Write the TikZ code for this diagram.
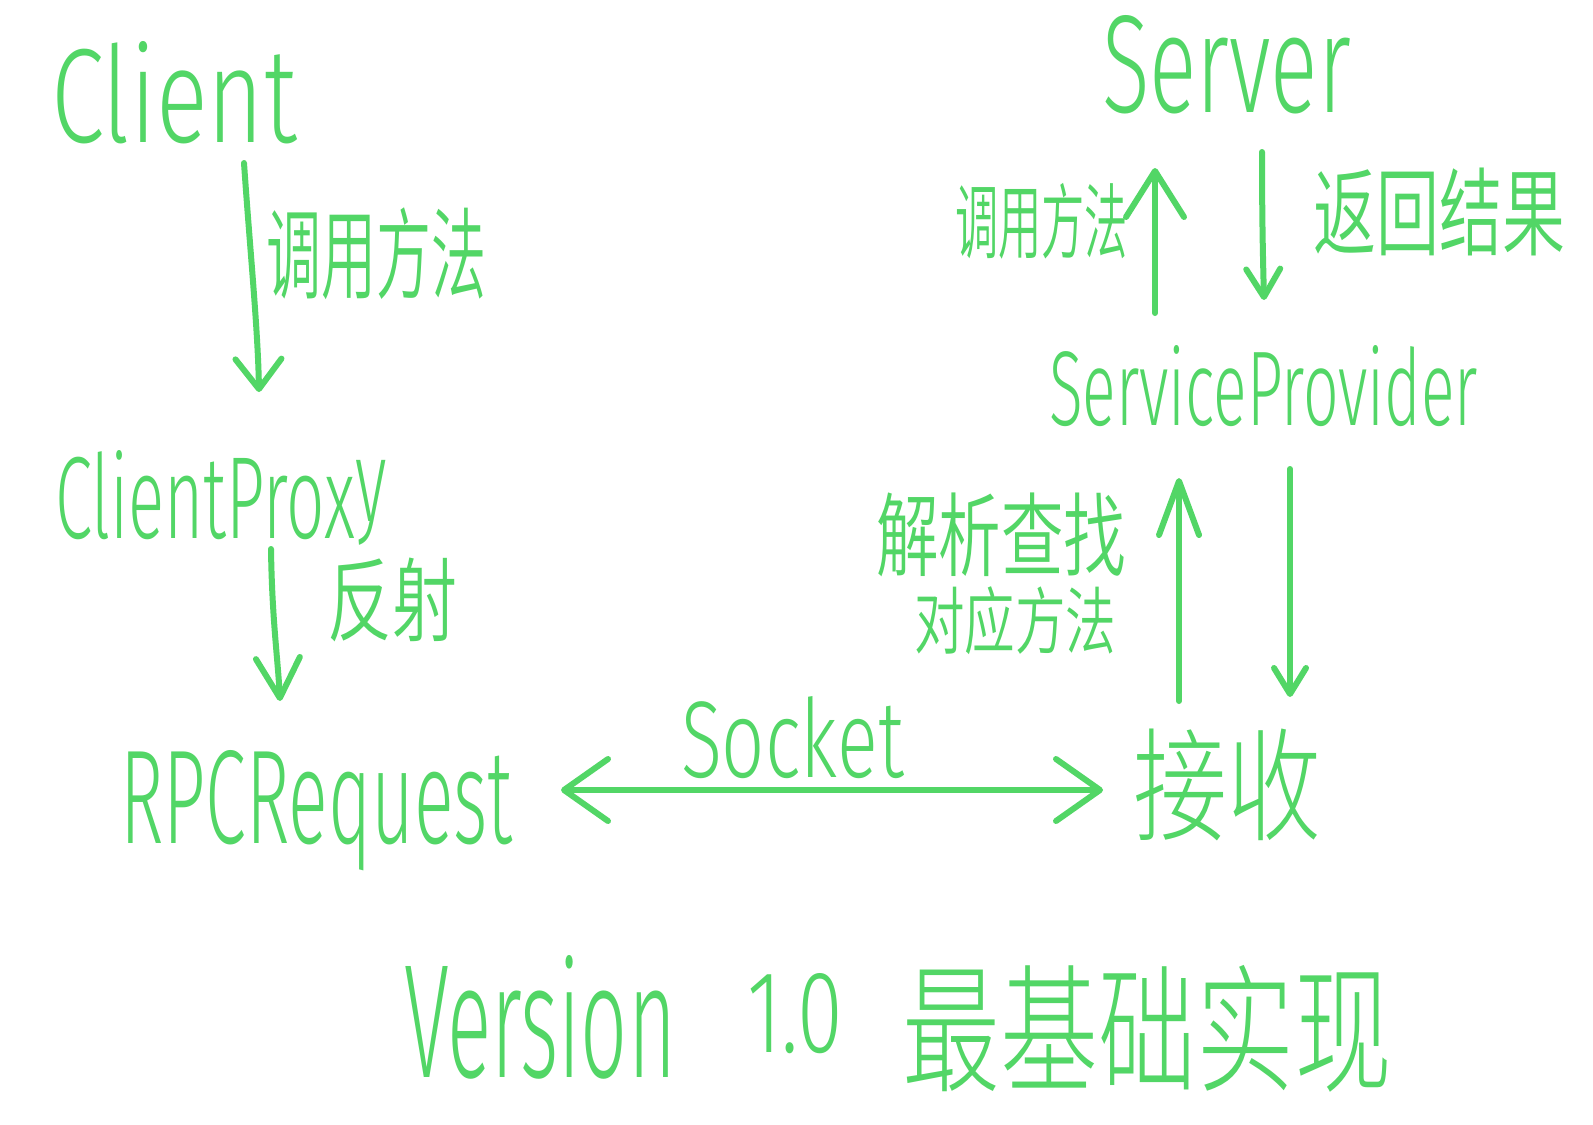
\documentclass[tikz,border=0pt]{standalone}
\usepackage{fontspec}
\usetikzlibrary{arrows.meta}
\newfontfamily\hand{Fira Sans Light}
\IfFontExistsTF{Noto Sans CJK SC Light}
  {\newfontfamily\cjkL{Noto Sans CJK SC Light}}
  {\newfontfamily\cjkL{Noto Sans CJK SC}}
\IfFontExistsTF{Noto Sans CJK SC DemiLight}
  {\newfontfamily\cjkD{Noto Sans CJK SC DemiLight}}
  {\newfontfamily\cjkD{Noto Sans CJK SC}}
\definecolor{pen}{RGB}{82,214,102}
\newcommand{\lt}[3]{\resizebox{#1pt}{#2pt}{\hand #3}}
\newcommand{\ct}[3]{\resizebox*{#1pt}{#2pt}{\cjkD #3}}
\newcommand{\ctl}[3]{\resizebox*{#1pt}{#2pt}{\cjkL #3}}
\begin{document}
\begin{tikzpicture}[x=0.5pt,y=-0.5pt,
  lat/.style={anchor=base west, inner sep=0pt, outer sep=0pt, text=pen},
  han/.style={anchor=south west, inner sep=0pt, outer sep=0pt, text=pen},
  conn/.style={draw=pen, line width=3pt, line cap=round, line join=round},
  hd/.style 2 args={-{Straight Barb[length=#1pt,width=#2pt,round]}},
  dhd/.style 2 args={{Straight Barb[length=#1pt,width=#2pt,round]}-{Straight Barb[length=#1pt,width=#2pt,round]}}]
\fill[white] (0,0) rectangle (1593,1124);
\useasboundingbox (0,0) rectangle (1593,1124);

% Latin labels
\node[lat] (client) at (51,142) {\lt{123}{50.5}{Client}};
\node[lat] (cproxy) at (55,538) {\lt{166}{44}{ClientProx\raisebox{0.14em}{y}}};
\node[lat] (rpc) at (120,843) {\lt{196.5}{46.5}{RPCRequest}};
\node[lat] (socket) at (681,777) {\lt{111.5}{40.5}{Socket}};
\node[lat] (sp) at (1049,425) {\lt{214.5}{40}{ServiceProvider}};
\node[lat] (server) at (1102,112) {\lt{124.5}{48.5}{Server}};
\node[lat] (ver) at (404,1077) {\lt{136}{61}{Version}};
\node[lat] (vnum) at (747,1052) {\lt{48}{39.5}{1.0}};

% Chinese labels
\node[han] (l1) at (266,300) {\ct{110}{46}{调用方法}};
\node[han] (l2) at (327,642) {\ct{65}{42}{反射}};
\node[han] (recv) at (1133,841) {\ctl{94}{56}{接收}};
\node[han] (l3a) at (876,577) {\ct{125}{42}{解析查找}};
\node[han] (l3b) at (914,655) {\ct{101}{34}{对应方法}};
\node[han] (l4) at (955,259) {\ct{86.5}{38}{调用方法}};
\node[han] (l5) at (1313,256) {\ct{126}{44}{返回结果}};
\node[han] (vcn) at (902,1092) {\ctl{245}{63.5}{最基础实现}};

% connector end points
\coordinate (a1s) at (244,163);
\coordinate (a1e) at (259,392);
\coordinate (a2s) at (271,549);
\coordinate (a2e) at (280,701);
\coordinate (sl) at (561,790);
\coordinate (sr) at (1103,790);
\coordinate (u1s) at (1179,701);
\coordinate (u1e) at (1179,478);
\coordinate (d1s) at (1290,469);
\coordinate (d1e) at (1290,697);
\coordinate (u2s) at (1155,313);
\coordinate (u2e) at (1155,168);
\coordinate (d2s) at (1262,152);
\coordinate (d2e) at (1264,300);

% connectors
\draw[conn,hd={15}{23}] (a1s) .. controls (250,250) and (258,330) .. (a1e);
\draw[conn,hd={20}{22}] (a2s) .. controls (272,620) and (278,660) .. (a2e);
\draw[conn,dhd={22}{31}] (sl) -- (sr);
\draw[conn,hd={27}{20}] (u1s) -- (u1e);
\draw[conn,hd={13}{16}] (d1s) -- (d1e);
\draw[conn,hd={23}{29}] (u2s) -- (u2e);
\draw[conn,hd={14}{17}] (d2s) .. controls (1262,220) and (1263,260) .. (d2e);
\end{tikzpicture}
\end{document}
